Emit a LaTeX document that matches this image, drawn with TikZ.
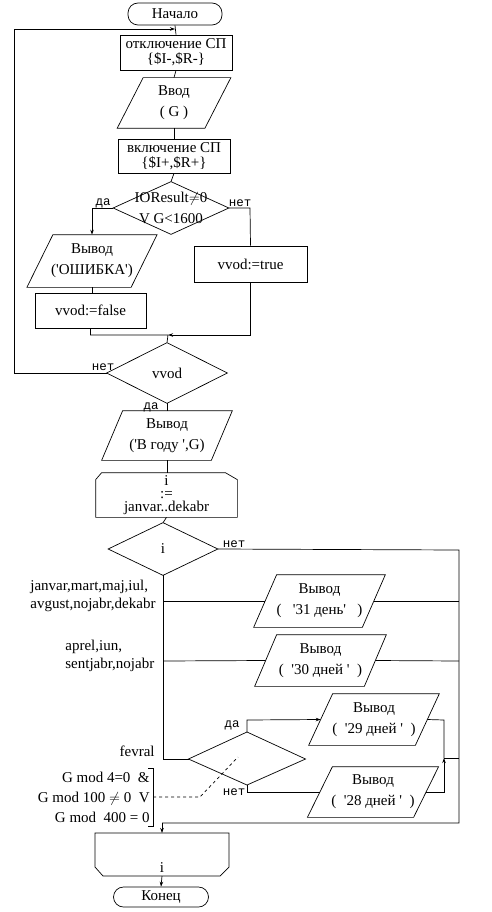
\documentclass[tikz,border=0pt]{standalone}
\usepackage{fontspec}
\setmainfont{Liberation Serif}
\newfontfamily\lblfont{Liberation Mono}
\usetikzlibrary{calc,arrows.meta}
\newcommand\q{\textquotesingle}
\newcommand\para[7]{%
  \node[plain,minimum width=#4pt,minimum height=#5pt] (#1) at (#2,#3) {#7};
  \draw[shape line] ($(#1.north west)+(#6pt,0)$) -- ($(#1.north east)+(#6pt,0)$) -- ($(#1.south east)-(#6pt,0)$) -- ($(#1.south west)-(#6pt,0)$) -- cycle;}
\newcommand\dmnd[6]{%
  \node[plain,minimum width=#4pt,minimum height=#5pt] (#1) at (#2,#3) {#6};
  \draw[shape line] (#1.north) -- (#1.east) -- (#1.south) -- (#1.west) -- cycle;}
\begin{document}
\begin{tikzpicture}[x=1pt,y=-1pt,
  line width=0.7pt,
  plain/.style={inner sep=0pt,align=center,font=\fontsize{15}{21}\selectfont},
  shape line/.style={line width=0.7pt},
  boxnode/.style={plain,draw,font=\fontsize{15}{15}\selectfont},
  term/.style={plain,draw,rounded corners=10pt},
  lbl/.style={inner sep=0pt,font=\lblfont\fontsize{12.5}{12.5}\selectfont},
  txt/.style={inner sep=0pt,font=\fontsize{15}{18}\selectfont},
  arr/.style={-{Stealth[length=5pt,width=3.5pt]}}]
\useasboundingbox (0,0) rectangle (491,912);
% top part
\node[term,minimum width=94pt,minimum height=22pt] (start) at (175,14) {Начало};
\node[boxnode,minimum width=112pt,minimum height=35pt] (off) at (176,52.5) {отключение СП\\\{\$I-,\$R-\}};
\para{inp}{174}{103}{87}{50}{13}{Ввод\\( G )}
\node[boxnode,minimum width=112pt,minimum height=34pt] (on) at (174,156) {включение СП\\\{\$I+,\$R+\}};
\dmnd{dec1}{171}{208}{115}{52}{\fontsize{15}{13}\selectfont IOResult$\neq$0\\V G<1600}
\para{err}{92}{261}{103.5}{52}{13}{Вывод\\(\q ОШИБКА\q)}
\node[boxnode,minimum width=111pt,minimum height=35pt] (vf) at (90.5,310.5) {vvod:=false};
\node[boxnode,minimum width=113pt,minimum height=36pt] (vt) at (250.5,264) {vvod:=true};
\dmnd{vvod}{167}{373}{120}{60}{vvod}
\para{out1}{167}{435.5}{109}{49}{10.5}{Вывод\\(\q В году \q,G)}
% loop start
\node[plain,minimum width=141pt,minimum height=44pt,font=\fontsize{15}{13}\selectfont] (ls) at (166.5,495) {i\\:=\\janvar..dekabr};
\draw[shape line] ($(ls.north west)+(6pt,0)$) -- ($(ls.north east)+(-12pt,0)$) -- ($(ls.north east)+(0,-7pt)$) -- (ls.south east) -- (ls.south west) -- ($(ls.north west)+(0,-7pt)$) -- cycle;
\dmnd{dec2}{163}{549}{109}{52}{i}
\para{p31}{319.5}{601}{108}{52}{11.5}{Вывод\\(~~~\q 31 день\q~~~)}
\para{p30}{320.5}{660.5}{109}{51}{11}{Вывод\\(~~\q 30 дней \q~~)}
\coordinate (dec3) at (247,759);
\draw[shape line] (247,732) coordinate (dec3n) -- (305.5,759) coordinate (dec3e) -- (247,785) coordinate (dec3s) -- (188.5,759) coordinate (dec3w) -- cycle;
\para{p29}{374}{719.5}{106}{51}{12}{Вывод\\(~~\q 29 дней \q~~)}
\para{p28}{373}{792}{105.5}{50}{12.5}{Вывод\\(~~\q 28 дней \q~~)}
% loop end
\coordinate (lenw) at (95,833);
\coordinate (lene) at (229,833);
\coordinate (lesw) at (95,876);
\coordinate (lese) at (229,876);
\coordinate (len) at (162,833);
\coordinate (les) at (162,876);
\node[plain,anchor=base] (lei) at (162,872) {i};
\draw[shape line] (lenw) -- (lene) -- ($(lese)+(0,9pt)$) -- ($(lese)+(-9pt,0)$) -- ($(lesw)+(8pt,0)$) -- ($(lesw)+(0,9pt)$) -- cycle;
\node[term,minimum width=95pt,minimum height=20pt] (end) at (161,897) {Конец};
% coordinates
\coordinate (jtop) at (175,29);
\coordinate (jleft) at (14,29);
\coordinate (jlow) at (14,373);
\coordinate (dl) at (92,208);
\coordinate (dr) at (250,208);
\coordinate (m) at (168,335);
\coordinate (rtop) at (459,550);
\coordinate (rbot) at (459,823);
\coordinate (lbot) at (162,823);
\coordinate (f) at (163,759);
\coordinate (b31) at (163,601);
\coordinate (b30) at (163,661);
\coordinate (r31) at (459,601);
\coordinate (r30) at (459,661);
\coordinate (d29) at (247,720);
\coordinate (d28) at (247,792);
\coordinate (c29) at (444,720);
\coordinate (c28) at (444,792);
\coordinate (cm) at (444,758);
\coordinate (rm) at (459,758);
% connectors
\draw (start.south) -- (off.north);
\draw[arr] (vvod.west) -- (jlow) -- (jleft) -- (jtop);
\draw (off.south) -- (inp.north);
\draw (inp.south) -- (on.north);
\draw (on.south) -- (dec1.north);
\draw[arr] (dec1.west) -- (dl) -- (err.north);
\draw (dec1.east) -- (dr) -- (vt.north);
\draw (err.south) -- (err.south |- vf.north);
\draw (vf.south) |- (m) -- (vvod.north);
\draw[arr] (vt.south) |- (m);
\draw (vvod.south) -- (out1.north);
\draw (out1.south) -- (out1.south |- ls.north);
\draw (ls.south) -- (dec2.north);
\draw (dec2.east) -- (rtop) -- (rbot) -- (lbot);
\draw[arr] (lbot) -- (len);
\draw (dec2.south) -- (f) -- (dec3w);
\draw (b31) -- (p31.west);
\draw (p31.east) -- (r31);
\draw (b30) -- (p30.west);
\draw (p30.east) -- (r30);
\draw[arr] (dec3n) -- (d29) -- (p29.west);
\draw (dec3s) -- (d28) -- (p28.west);
\draw (p29.east) -- (c29) -- (cm);
\draw[arr] (p28.east) -- (c28) -- (cm);
\draw (cm) -- (rm);
\draw[arr] (les) -- (end.north);
% labels
\node[lbl,anchor=base] (l1) at (103,205) {да};
\node[lbl,anchor=base] (l2) at (240,206) {нет};
\node[lbl,anchor=base] (l3) at (103,370) {нет};
\node[lbl,anchor=base] (l4) at (151,409) {да};
\node[lbl,anchor=base] (l5) at (234,547) {нет};
\node[lbl,anchor=base] (l6) at (232,727) {да};
\node[lbl,anchor=base] (l7) at (234,795) {нет};
\node[txt,anchor=west,align=left] (t31) at (30,596) {janvar,mart,maj,iul,\\avgust,nojabr,dekabr};
\node[txt,anchor=west,align=left] (t30) at (65,656) {aprel,iun,\\sentjabr,nojabr};
\node[txt,anchor=east] (tf) at (155,751) {fevral};
\node[txt,anchor=east,align=right,font=\fontsize{15}{20}\selectfont] (cond) at (150,797) {G mod 4=0~~\&\\G mod 100 $\neq$ 0~~V\\G mod~~400 = 0};
\coordinate (bt) at (153,768);
\coordinate (bb) at (153,826);
\coordinate (bm) at (153,797);
\coordinate (dk) at (200,797);
\coordinate (dd) at (238,757);
\draw ($(bt)+(-5pt,0)$) -- (bt) -- (bb) -- ($(bb)+(-5pt,0)$);
\draw[dash pattern=on 3pt off 3pt] (bm) -- (dk) -- (dd);
\end{tikzpicture}
\end{document}
